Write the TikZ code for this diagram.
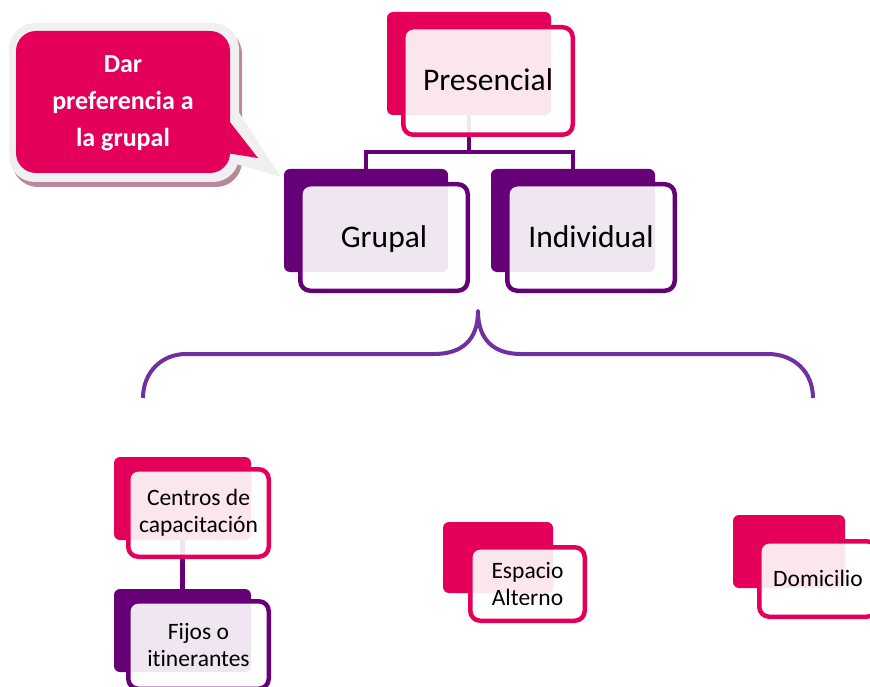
\documentclass[tikz,border=0pt]{standalone}
\usepackage{fontspec}
\setmainfont{Carlito}[Ligatures=NoCommon]
\definecolor{pinkc}{HTML}{E4005A}
\definecolor{purpc}{HTML}{660077}
\definecolor{bracec}{HTML}{7030A0}
\definecolor{callborder}{HTML}{F0F0F0}
\definecolor{callshadow}{HTML}{B8899A}
\begin{document}
\begin{tikzpicture}[x=1pt,y=-1pt,
 backbox/.style={fill=#1, rounded corners=6pt, inner sep=0pt, outer sep=0pt},
 frontbox/.style={draw=#1, line width=4.5pt, fill=white, fill opacity=0.9, text opacity=1, rounded corners=10pt, inner sep=0pt, outer sep=0pt, align=center},
 conn/.style={draw=purpc, line width=4.5pt},
 bigtext/.style={font=\fontsize{31.5}{38}\selectfont, text height=24pt, text depth=4pt},
 smalltext/.style={font=\fontsize{23.5}{27}\selectfont},
]
\useasboundingbox (0,0) rectangle (870,687);
\clip (0,0) rectangle (870,687);

% ---- callout ----
\fill[callshadow, rounded corners=26pt] (12,28) rectangle (242,187);
\fill[callborder, rounded corners=26pt] (9,23) rectangle (239,182);
\fill[callborder] (236,108) -- (281,177) -- (236,164) -- cycle;
\fill[pinkc, rounded corners=20pt] (16,31) rectangle (230,173);
\fill[pinkc] (226,117) -- (258,158) -- (226,153) -- cycle;
\node[text=white, font=\bfseries\fontsize{26}{37}\selectfont, align=center] (callt) at (123,103) {Dar\\preferencia a\\la grupal};

% ---- back boxes ----
\node[backbox=pinkc, minimum width=164pt, minimum height=103pt] (pb) at (469,63.5) {};
\node[backbox=purpc, minimum width=164pt, minimum height=103pt] (gb) at (366,220.5) {};
\node[backbox=purpc, minimum width=164pt, minimum height=103pt] (ib) at (573,220.5) {};
\node[backbox=pinkc, minimum width=137pt, minimum height=83pt] (cb) at (182.5,498.5) {};
\node[backbox=purpc, minimum width=137pt, minimum height=83pt] (fb) at (182.5,630.5) {};
\node[backbox=pinkc, minimum width=110pt, minimum height=71pt] (eb) at (498,557.5) {};
\node[backbox=pinkc, minimum width=112pt, minimum height=73pt] (db) at (789,551.5) {};

% ---- connectors ----
\draw[conn] (pb.south) -- ++(0,37) coordinate (bar);
\draw[conn] (gb.north) |- (bar) -| (ib.north);
\draw[conn] (cb.south) -- (fb.north);

% ---- front boxes ----
\node[frontbox=pinkc, bigtext, minimum width=169.5pt, minimum height=107.5pt] (pf) at (488,81) {Presencial};
\node[frontbox=purpc, bigtext, minimum width=167.5pt, minimum height=106.5pt] (gf) at (384,237.5) {Grupal};
\node[frontbox=purpc, bigtext, minimum width=167.5pt, minimum height=106.5pt] (if) at (591,237.5) {Individual};
\node[frontbox=pinkc, smalltext, minimum width=140.5pt, minimum height=87.5pt] (cf) at (198.5,513) {Centros de\\capacitación};
\node[frontbox=purpc, smalltext, minimum width=140.5pt, minimum height=87.5pt] (ff) at (198.5,645) {Fijos o\\itinerantes};
\node[frontbox=pinkc, smalltext, minimum width=114.5pt, minimum height=73.5pt] (ef) at (527.5,584) {Espacio\\Alterno};
\node[frontbox=pinkc, smalltext, text height=18pt, text depth=3pt, minimum width=117.5pt, minimum height=75.5pt] (df) at (818,579) {Domicilio};

% ---- brace ----
\draw[bracec, line width=4pt, line join=round]
  (143,398) .. controls (143,372) and (162,354) .. (186,354)
  -- (434,354) .. controls (462,354) and (478,340) .. (478,311)
  .. controls (478,340) and (494,354) .. (521,354)
  -- (768,354) .. controls (794,354) and (813,372) .. (813,398);
\end{tikzpicture}
\end{document}
